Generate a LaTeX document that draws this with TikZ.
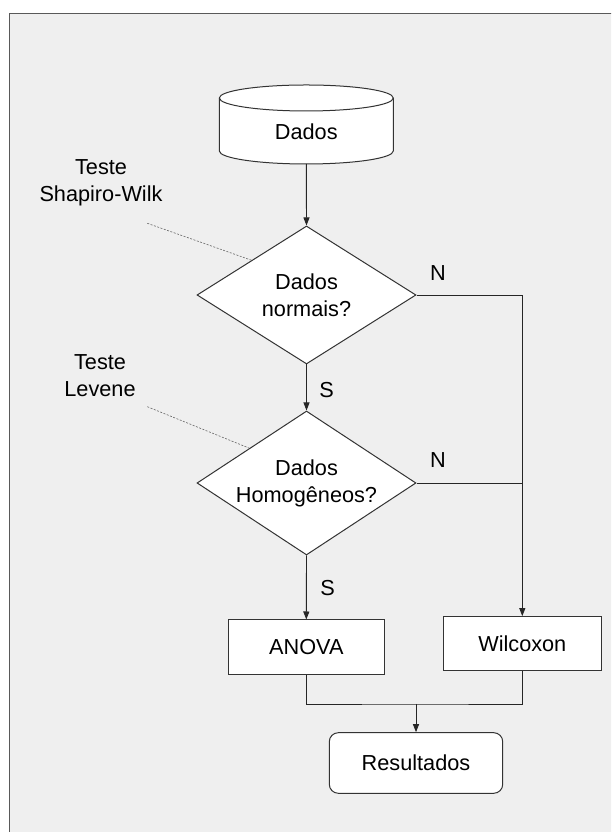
\documentclass[tikz,border=0pt]{standalone}
\usepackage{fontspec}
\setmainfont{Liberation Sans}
\usetikzlibrary{shapes.geometric,arrows.meta,calc}
\definecolor{panel}{HTML}{EFEFEF}
\definecolor{edge}{HTML}{333333}
\begin{document}
\begin{tikzpicture}[x=1pt,y=1pt,
  every node/.style={font=\fontsize{21.7}{27}\selectfont, text=black},
  box/.style={draw=edge, line width=1pt, fill=white, inner sep=0pt},
  decision/.style={box, diamond, aspect=1.52, minimum width=219pt, minimum height=138pt, align=center},
  flow/.style={draw=black!85, line width=0.9pt},
  arr/.style={flow, -{Triangle[length=8pt,width=6pt]}},
  note/.style={draw=gray!80!black, line width=0.6pt, dash pattern=on 2pt off 1.5pt},
  tag/.style={inner sep=0pt, align=center}]
\useasboundingbox (0,0) rectangle (611,832);
\clip (0,0) rectangle (611,832);
\fill[white] (0,0) rectangle (611,832);
% grey panel behind the chart
\draw[draw=black!65, line width=1pt, fill=panel] (9.3,-10) rectangle (625,818.3);

% data store (cylinder)
\draw[box] (219.3,734) -- (219.3,681)
  arc[start angle=180,end angle=360,x radius=87pt,y radius=13pt]
  -- (393.3,734)
  arc[start angle=0,end angle=180,x radius=87pt,y radius=13pt] -- cycle;
\draw[draw=edge, line width=1pt] (219.3,734)
  arc[start angle=180,end angle=360,x radius=87pt,y radius=13pt];
\node[tag] (dados) at (306.3,700.3) {Dados};
\coordinate (dadosbot) at (306.3,668);

% decisions
\node[decision] (d1) at (306.5,537) {Dados\\normais?};
\node[decision, minimum height=144pt] (d2) at (306.5,349) {Dados\\Homogêneos?};

% processes and result
\node[box, minimum width=156pt, minimum height=55pt] (anova) at (306.3,184.5) {ANOVA};
\node[box, minimum width=157.4pt, minimum height=54.3pt] (wil) at (522.3,188.2) {Wilcoxon};
\node[box, rounded corners=9pt, minimum width=173.4pt, minimum height=60.6pt] (res) at (416,69) {Resultados};
\coordinate (join) at (416,128);

% connectors
\draw[arr] (dadosbot) -- (d1.north);
\draw[arr] (d1.south) -- (d2.north);
\draw[arr] (d2.south) -- (anova.north);
\draw[arr] (d1.east) -| (wil.north);
\draw[flow] (d2.east) -- (d2.east -| wil.north);
\draw[flow] (anova.south) |- (join) -| (wil.south);
\draw[arr] (join) -- (res.north);

% branch labels
\node[tag] (n1) at (438,559.3) {N};
\node[tag] (n2) at (438,372) {N};
\node[tag] (s1) at (326.5,442) {S};
\node[tag] (s2) at (327.7,244.3) {S};

% test annotations
\node[tag] (sw) at (101,649.3) {Teste\\Shapiro-Wilk};
\node[tag] (lv) at (100,456.5) {Teste\\Levene};
\coordinate (swtail) at (147.3,608.7);
\coordinate (lvtail) at (147.3,425.3);
\draw[note] (swtail) -- ($(d1.west)!0.5!(d1.north)$);
\draw[note] (lvtail) -- ($(d2.west)!0.48!(d2.north)$);
\end{tikzpicture}
\end{document}
